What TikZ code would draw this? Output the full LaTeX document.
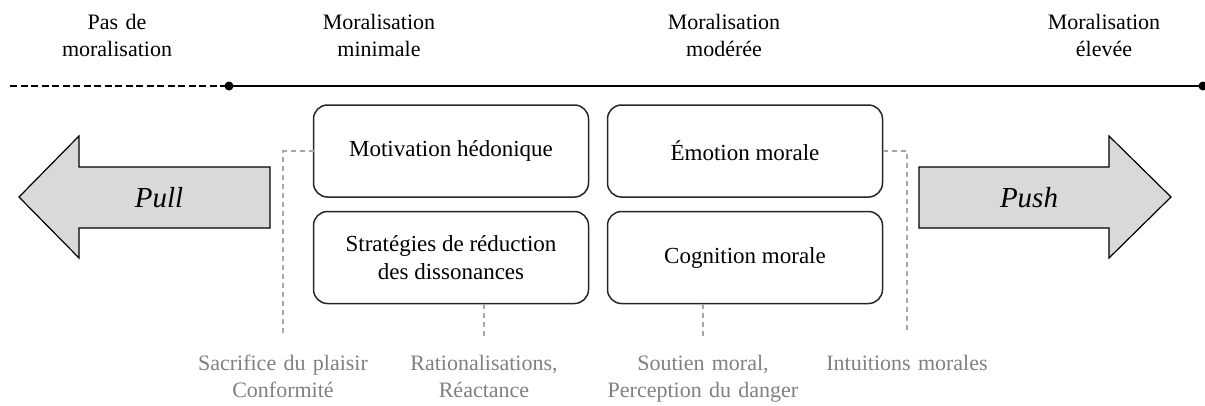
\documentclass[tikz,border=0pt]{standalone}
\usepackage{fontspec}
\setmainfont{Liberation Serif}
\definecolor{boxline}{HTML}{262626}
\definecolor{notegray}{HTML}{808080}
\definecolor{guidegray}{HTML}{A6A6A6}
\definecolor{arrowfill}{HTML}{D9D9D9}
\begin{document}
\begin{tikzpicture}[x=1pt,y=-1pt,
  every node/.style={inner sep=0pt, outer sep=0pt},
  txt/.style={font=\fontsize{22}{27}\selectfont},
  stage/.style={txt, text width=200pt, align=center, anchor=base},
  factor/.style={font=\fontsize{23}{28}\selectfont, draw=boxline, line width=1.5pt,
    rounded corners=14pt, fill=white, minimum width=275pt, minimum height=92pt, align=center},
  note/.style={txt, text=notegray, text width=230pt, align=center, anchor=base},
  guide/.style={draw=guidegray, line width=1.2pt, dash pattern=on 5pt off 4pt},
  dot/.style={circle, fill=black, minimum size=9pt},
  axis/.style={line width=2pt, black},
  bigarrow/.style={draw=black, line width=1.2pt, fill=arrowfill, line join=miter},
  arrowlabel/.style={font=\fontsize{29}{34}\selectfont\itshape}
]
\useasboundingbox (0,0) rectangle (1205,405);

% stages of moralisation along the top
\node[stage] (s0) at (117,29) {Pas de\\moralisation};
\node[stage] (s1) at (379,29) {Moralisation\\minimale};
\node[stage] (s2) at (724,29) {Moralisation\\modérée};
\node[stage] (s3) at (1104,29) {Moralisation\\élevée};

% timeline
\coordinate (tl0) at (10,86);
\node[dot] (d1) at (229,86) {};
\node[dot] (d2) at (1203,86) {};
\draw[axis, dash pattern=on 7pt off 3.5pt] (tl0) -- (d1.center);
\draw[axis] (d1.center) -- (d2.center);

% pull / push arrows
\draw[bigarrow] (270,167) -- (79,167) -- (79,136) -- (19,197) -- (79,258) -- (79,228) -- (270,228) -- cycle;
\node[arrowlabel] (pull) at (159,198) {Pull};
\draw[bigarrow] (919,167) -- (1109,167) -- (1109,136) -- (1171,197) -- (1109,258) -- (1109,228) -- (919,228) -- cycle;
\node[arrowlabel] (push) at (1029,198) {Push};

% factors
\node[factor] (mot) at (451,151) {Motivation hédonique};
\node[factor] (strat) at (451,257.5) {Stratégies de réduction\\des dissonances};
\node[factor] (emo) at (745,151) {Émotion morale};
\node[factor] (cog) at (745,257.5) {Cognition morale};

% guide ends and notes
\coordinate (sacEnd) at (283,335);
\coordinate (ratEnd) at (484,337);
\coordinate (souEnd) at (703,337);
\coordinate (intEnd) at (907,333);
\draw[guide] (mot.west) -| (sacEnd);
\draw[guide] (strat.south -| ratEnd) -- (ratEnd);
\draw[guide] (cog.south -| souEnd) -- (souEnd);
\draw[guide] (emo.east) -| (intEnd);

\node[note] (sac) at (283,370) {Sacrifice du plaisir\\Conformité};
\node[note] (rat) at (484,370) {Rationalisations,\\Réactance};
\node[note] (sou) at (703,370) {Soutien moral,\\Perception du danger};
\node[note] (int) at (907,370) {Intuitions morales};
\end{tikzpicture}
\end{document}
